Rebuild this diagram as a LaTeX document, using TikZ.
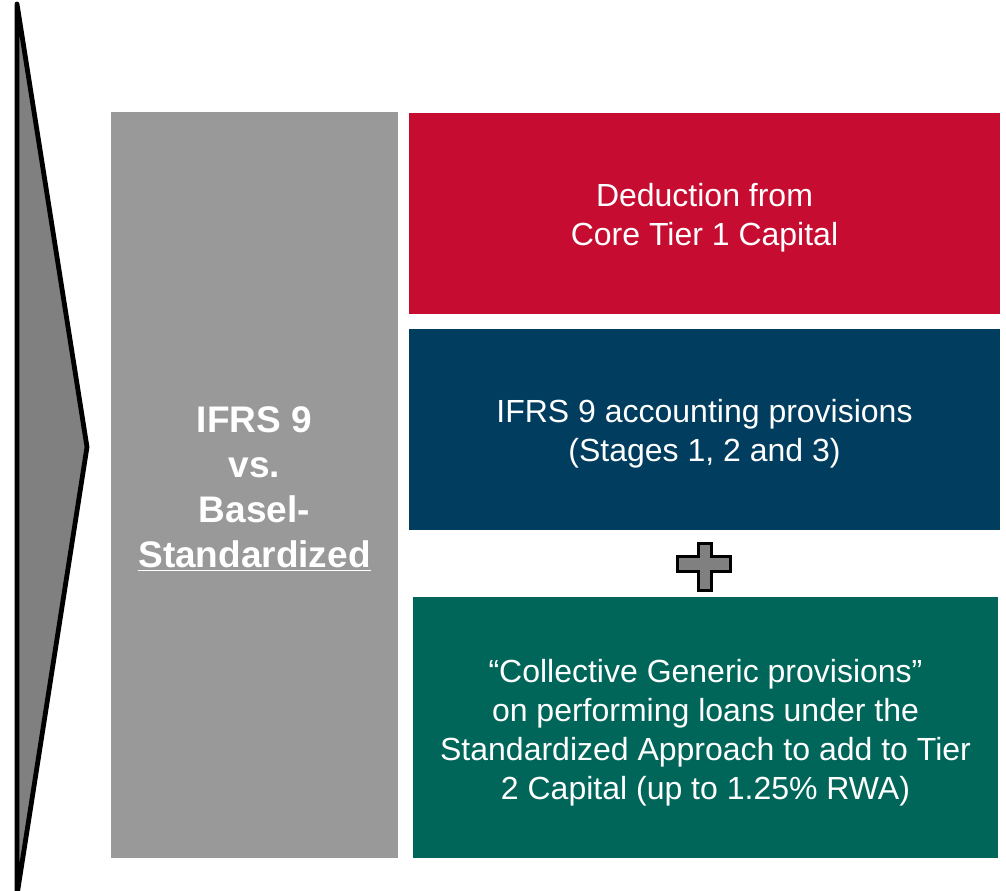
\documentclass[tikz,border=0pt]{standalone}
\usepackage{fontspec}
\setmainfont{Liberation Sans}
\definecolor{capred}{HTML}{C60C30}
\definecolor{provblue}{HTML}{003D5F}
\definecolor{genericgreen}{HTML}{00665A}
\definecolor{sidegray}{HTML}{999999}
\definecolor{arrowgray}{HTML}{808080}

\begin{document}
\begin{tikzpicture}[x=0.75pt,y=-0.75pt,
    box/.style={inner sep=0pt},
    boxtext/.style={inner sep=0pt, text=white, align=center, yshift=-3pt,
        font=\fontsize{24}{29.25}\selectfont},
    sign/.style={fill=arrowgray, draw=black, line width=2.4pt, line join=miter}]
    \def\u{0.75pt}
    \useasboundingbox (0,0) rectangle (1006,891);

    % big arrow on the left
    \draw[fill=arrowgray, line width=3.6pt, line join=round] (17,4) -- (87,447) -- (17,895) -- cycle;

    \node[box, fill=sidegray, minimum width=287*\u, minimum height=746*\u] (ifrsbasel) at (254.5,485) {};
    \node[box, fill=capred, minimum width=591*\u, minimum height=201*\u] (deduct) at (704.5,213.5) {};
    \node[box, fill=provblue, minimum width=591*\u, minimum height=201*\u] (ifrsprov) at (704.5,429.5) {};
    \node[box, fill=genericgreen, minimum width=585*\u, minimum height=261*\u] (generic) at (705.5,727.5) {};

    \node[boxtext, font=\fontsize{27.75}{33.75}\selectfont\bfseries] (ifrsbaseltext) at (ifrsbasel.center)
        {IFRS 9\\vs.\\Basel-\\\underline{Standardized}};
    \node[boxtext] (deducttext) at (deduct.center) {Deduction from\\Core Tier 1 Capital};
    \node[boxtext] (ifrsprovtext) at (ifrsprov.center) {IFRS 9 accounting provisions\\(Stages 1, 2 and 3)};
    \node[boxtext, yshift=-1pt] (generictext) at (generic.center)
        {\textquotedblleft Collective Generic provisions\textquotedblright\\on performing loans under the\\Standardized Approach to add to Tier\\2 Capital (up to 1.25\% RWA)};

    % plus sign
    \coordinate (plus) at (704.5,567);
    \draw[sign] ([shift={(-6,-23.5)}]plus) -- ++(13,0) -- ++(0,13) -- ++(19,0) -- ++(0,15)
        -- ++(-19,0) -- ++(0,19) -- ++(-13,0) -- ++(0,-19) -- ++(-21,0) -- ++(0,-15)
        -- ++(21,0) -- cycle;
\end{tikzpicture}
\end{document}
